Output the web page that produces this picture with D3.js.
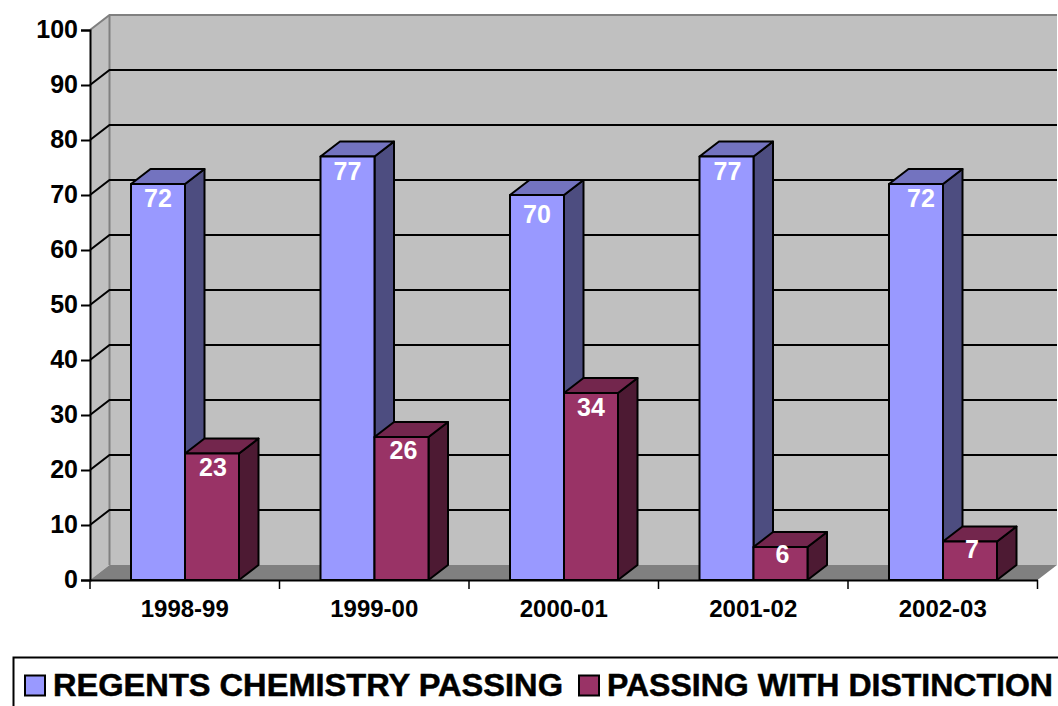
<!DOCTYPE html>
<html>
<head>
<meta charset="utf-8">
<script src="https://cdn.jsdelivr.net/npm/d3@7"></script>
<style>
    html, body { margin: 0; padding: 0; background: #fff; overflow: hidden; }
    svg { display: block; }
    text { font-family: "Liberation Sans", Arial, sans-serif; font-weight: bold; }
</style>
</head>
<body>
<div class="chart"></div>
<script>
// Data
const years = ["1998-99", "1999-00", "2000-01", "2001-02", "2002-03"];
const seriesNames = ["REGENTS CHEMISTRY PASSING", "PASSING WITH DISTINCTION"];
const regentsPassing = [72, 77, 70, 77, 72];
const withDistinction = [23, 26, 34, 6, 7];
const yTicks = [0, 10, 20, 30, 40, 50, 60, 70, 80, 90, 100];

const width = 1058, height = 706;
const dx = 19.5, dy = -15;     // depth of the back wall and the bars

const svg = d3.select(".chart")
    .append("svg")
    .attr("width", width)
    .attr("height", height);

// Scales
const y = d3.scaleLinear().domain([0, 100]).range([580, 30]);
const x = d3.scaleBand().domain(years).range([90, 1037.5]);
const xSeries = d3.scaleBand().domain(seriesNames).range([41, 149]);

const poly = pts => pts.map(p => p.join(",")).join(" ");

// Walls and floor
const left = x.range()[0], right = x.range()[1];
svg.append("polygon")
    .attr("points", poly([[left + dx, y(100) + dy], [right + dx, y(100) + dy], [right + dx, y(0) + dy], [left + dx, y(0) + dy]]))
    .attr("fill", "#c0c0c0");
svg.append("polygon")
    .attr("points", poly([[left, y(100)], [left + dx, y(100) + dy], [left + dx, y(0) + dy], [left, y(0)]]))
    .attr("fill", "#c0c0c0");
svg.append("polygon")
    .attr("points", poly([[left, y(0)], [left + dx, y(0) + dy], [right + dx, y(0) + dy], [right, y(0)]]))
    .attr("fill", "#808080");

// Wall outlines
svg.append("polyline")
    .attr("points", poly([[left, y(100)], [left + dx, y(100) + dy], [right + dx, y(100) + dy]]))
    .attr("fill", "none").attr("stroke", "#808080").attr("stroke-width", 2);
svg.append("line")
    .attr("x1", left + dx).attr("x2", left + dx)
    .attr("y1", y(100) + dy).attr("y2", y(0) + dy)
    .attr("stroke", "#808080").attr("stroke-width", 2);

// Gridlines, bent round the side wall
svg.append("g").selectAll("polyline")
    .data(yTicks.filter(d => d > 0 && d < 100))
    .enter().append("polyline")
    .attr("points", d => poly([[left, y(d)], [left + dx, y(d) + dy], [right + dx, y(d) + dy]]))
    .attr("fill", "none")
    .attr("stroke", "#000")
    .attr("stroke-width", 2);

// Bars: each one front, top and side faces
const series = [
    {name: seriesNames[0], values: regentsPassing, front: "#9999ff", top: "#7373bf", side: "#4d4d80"},
    {name: seriesNames[1], values: withDistinction, front: "#993366", top: "#73264d", side: "#4d1a33"}
];

// The labels do not sit at one fixed place on the bar
const labelGap = v => v < 10 ? 16 : v === 70 ? 28 : v < 30 ? 22 : 23;
const labelNudge = [[0, 0, 0, 1, 5], [1, 2, 0, 2, 2]];

series.forEach(function(s, si) {
    const bars = svg.append("g").selectAll("g")
        .data(years.map((year, i) => ({year: year, value: s.values[i], nudge: labelNudge[si][i]})))
        .enter().append("g")
        .attr("transform", d => `translate(${x(d.year) + xSeries(s.name)},0)`);

    const w = xSeries.bandwidth();
    const faceStyle = sel => sel.attr("stroke", "#000").attr("stroke-width", 2).attr("stroke-linejoin", "round");

    bars.append("polygon")
        .attr("points", d => poly([[w, y(d.value)], [w + dx, y(d.value) + dy], [w + dx, y(0) + dy], [w, y(0)]]))
        .attr("fill", s.side)
        .call(faceStyle);
    bars.append("polygon")
        .attr("points", d => poly([[0, y(d.value)], [dx, y(d.value) + dy], [w + dx, y(d.value) + dy], [w, y(d.value)]]))
        .attr("fill", s.top)
        .call(faceStyle);
    bars.append("rect")
        .attr("y", d => y(d.value))
        .attr("width", w)
        .attr("height", d => y(0) - y(d.value))
        .attr("fill", s.front)
        .call(faceStyle);
    bars.append("text")
        .attr("x", d => w / 2 + d.nudge)
        .attr("y", d => y(d.value) + labelGap(d.value))
        .attr("text-anchor", "middle")
        .attr("fill", "#fff")
        .style("font-size", "25px")
        .text(d => d.value);
});

// Y axis
const yAxis = svg.append("g")
    .attr("transform", `translate(${left},0)`)
    .call(d3.axisLeft(y).tickValues(yTicks).tickSize(9).tickPadding(3));
yAxis.selectAll("path").attr("stroke", "#000").attr("stroke-width", 2);
yAxis.selectAll("line").attr("stroke", "#000").attr("stroke-width", 2);
yAxis.selectAll("text")
    .attr("fill", "#000")
    .attr("dy", "0.28em")
    .style("font-size", "25px");

// X axis
const xAxis = svg.append("g")
    .attr("transform", `translate(0,${y(0)})`)
    .call(d3.axisBottom(x).tickSize(0).tickPadding(20));
xAxis.selectAll("path").attr("stroke", "#000").attr("stroke-width", 2);
xAxis.selectAll("text").attr("fill", "#000").style("font-size", "24px");
svg.append("g").selectAll("line")
    .data(years.map(d => x(d)).concat(right))
    .enter().append("line")
    .attr("x1", d => d).attr("x2", d => d)
    .attr("y1", y(0)).attr("y2", y(0) + 9)
    .attr("stroke", "#000").attr("stroke-width", 1.5);

// Legend
svg.append("rect")
    .attr("x", 13.5).attr("y", 657.5)
    .attr("width", 1100).attr("height", 100)
    .attr("fill", "#fff").attr("stroke", "#000").attr("stroke-width", 2);

const legendX = [25, 579];
const legendTextWidth = [510, 446];
const legend = svg.append("g").selectAll("g")
    .data(series)
    .enter().append("g")
    .attr("transform", (d, i) => `translate(${legendX[i]},675.5)`);
legend.append("rect")
    .attr("width", 20).attr("height", 20)
    .attr("fill", d => d.front)
    .attr("stroke", "#000").attr("stroke-width", 2);
legend.append("text")
    .attr("x", 28).attr("y", 20)
    .attr("textLength", (d, i) => legendTextWidth[i])
    .attr("lengthAdjust", "spacingAndGlyphs")
    .attr("stroke", "#000")
    .attr("stroke-width", 0.5)
    .style("font-size", "32px")
    .text(d => d.name);
</script>
</body>
</html>
